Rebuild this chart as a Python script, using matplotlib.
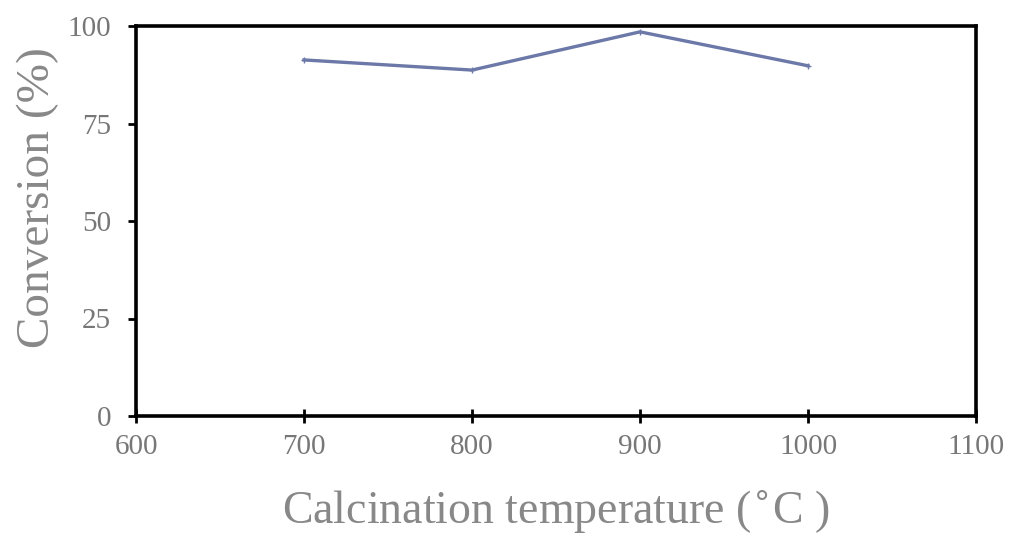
import matplotlib
matplotlib.use('Agg')
import matplotlib.pyplot as plt

# data
temps = [700, 800, 900, 1000]
conversion = [91.3, 88.7, 98.5, 89.8]
x_ticks = [600, 700, 800, 900, 1000, 1100]
y_ticks = [0, 25, 50, 75, 100]

plt.rcParams['font.family'] = ['Liberation Serif', 'DejaVu Serif']

fig = plt.figure(figsize=(10.12, 5.37), dpi=100)
ax = fig.add_axes([136 / 1012, 1 - 416 / 537, 840 / 1012, 390 / 537])

ax.plot(temps, conversion, color='#6b78a8', linewidth=2.4,
        marker='+', markersize=5, markeredgewidth=1.0)

ax.set_xlim(600, 1100)
ax.set_ylim(0, 100)
ax.set_xticks(x_ticks)
ax.set_yticks(y_ticks)

for s in ax.spines.values():
    s.set_linewidth(2.6)
    s.set_color('black')

ax.tick_params(axis='x', direction='inout', length=10, width=2,
               labelsize=21, labelcolor='#777777', pad=8)
ax.tick_params(axis='y', direction='out', length=6, width=2,
               labelsize=21, labelcolor='#777777', pad=12)

ax.set_xlabel('Calcination temperature ($^{\\circ}$C )', fontsize=33,
              color='#888888', labelpad=20)
ax.set_ylabel('Conversion (%)', fontsize=34, color='#888888')
ax.yaxis.set_label_coords(-0.092, 0.56)

fig.savefig('out.png', dpi=100)
